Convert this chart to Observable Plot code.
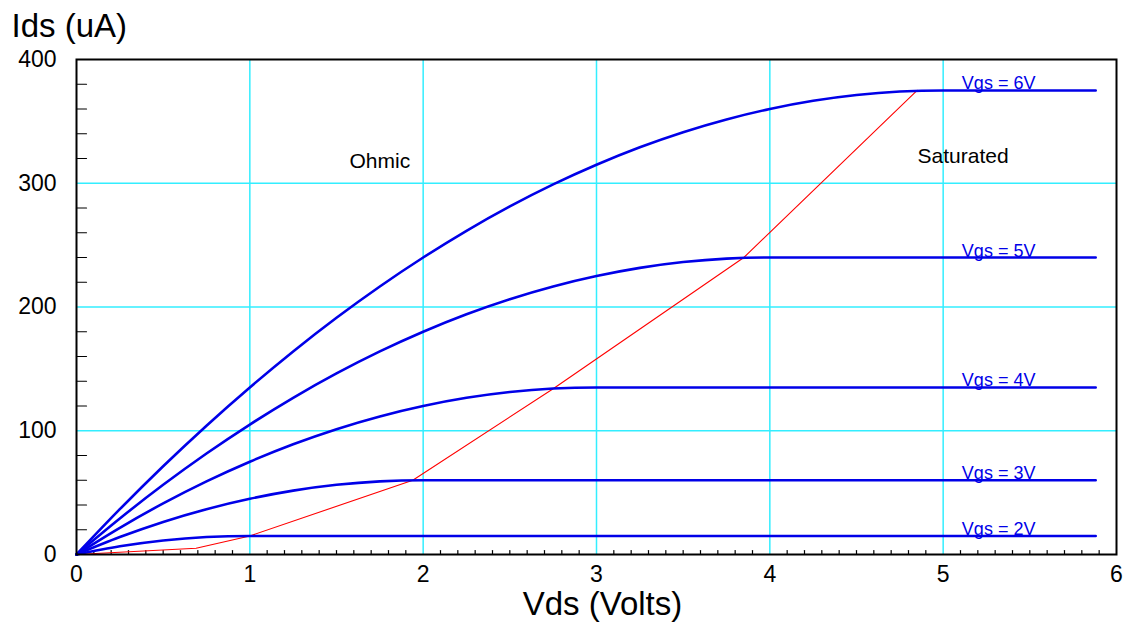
<!DOCTYPE html>
<html>
<head>
<meta charset="utf-8">
<script src="https://cdn.jsdelivr.net/npm/d3@7"></script>
<script src="https://cdn.jsdelivr.net/npm/@observablehq/plot@0.6"></script>
<style>
  html, body { margin: 0; padding: 0; background: #fff; }
  #chart svg { display: block; }
</style>
</head>
<body>
<div id="chart"></div>
<script>
// ---- Data ----
const seriesNames = ["Vgs = 2V", "Vgs = 3V", "Vgs = 4V", "Vgs = 5V", "Vgs = 6V"];

const vds2 = [0, 0.25, 0.5, 0.75, 1, 5.88];
const ids2 = [0, 6.6, 11.3, 14.1, 15, 15];

const vds3 = [0, 0.25, 0.5, 0.75, 1, 1.25, 1.5, 1.75, 2, 5.88];
const ids3 = [0, 14.1, 26.3, 36.6, 45, 51.6, 56.3, 59.1, 60, 60];

const vds4 = [0, 0.25, 0.5, 0.75, 1, 1.25, 1.5, 1.75, 2, 2.25, 2.5, 2.75, 3, 5.88];
const ids4 = [0, 21.6, 41.3, 59.1, 75, 89.1, 101.3, 111.6, 120, 126.6, 131.3, 134.1, 135, 135];

const vds5 = [0, 0.25, 0.5, 0.75, 1, 1.25, 1.5, 1.75, 2, 2.25, 2.5, 2.75, 3, 3.25, 3.5, 3.75, 4, 5.88];
const ids5 = [0, 29.1, 56.3, 81.6, 105, 126.6, 146.3, 164.1, 180, 194.1, 206.3, 216.6, 225, 231.6, 236.3, 239.1, 240, 240];

const vds6 = [0, 0.25, 0.5, 0.75, 1, 1.25, 1.5, 1.75, 2, 2.25, 2.5, 2.75, 3, 3.25, 3.5, 3.75, 4, 4.25, 4.5, 4.75, 5, 5.88];
const ids6 = [0, 36.6, 71.3, 104.1, 135, 164.1, 191.3, 216.6, 240, 261.6, 281.3, 299.1, 315, 329.1, 341.3, 351.6, 360, 366.6, 371.3, 374.1, 375, 375];

const satIds = [15, 60, 135, 240, 375];

// saturation boundary (red)
const boundaryVds = [0, 0.69, 1, 1.94, 2.75, 3.85, 4.85];
const boundaryIds = [0, 5, 15, 60, 134, 240, 375];

const xTicks = [0, 1, 2, 3, 4, 5, 6];
const yTicks = [0, 100, 200, 300, 400];
const xGrid = [1, 2, 3, 4, 5];
const yGrid = [100, 200, 300];

const regionNames = ["Ohmic", "Saturated"];
const regionVds = [1.75, 5.115];
const regionIds = [318, 322];

// ---- Build tables ----
const vdsAll = [vds2, vds3, vds4, vds5, vds6];
const idsAll = [ids2, ids3, ids4, ids5, ids6];
const curves = [];
seriesNames.forEach((name, s) => {
  vdsAll[s].forEach((v, i) => curves.push({series: name, vds: v, ids: idsAll[s][i]}));
});
const boundary = boundaryVds.map((v, i) => ({vds: v, ids: boundaryIds[i]}));
const seriesLabels = seriesNames.map((name, i) => ({name, ids: satIds[i]}));
const regions = regionNames.map((name, i) => ({name, vds: regionVds[i], ids: regionIds[i]}));

const minorX = d3.range(1, 60).filter(i => i % 10 !== 0).map(i => i / 10);
const minorY = d3.range(20, 400, 20).filter(v => v % 100 !== 0);

const tickShape = {draw(ctx, l) { ctx.moveTo(0, 0); ctx.lineTo(0, -l); }};

const blue = "#0000e8";
const cyan = "#33eeff";

const chart = Plot.plot({
  width: 1127,
  height: 622,
  marginLeft: 76,
  marginRight: 11,
  marginTop: 59,
  marginBottom: 68,
  style: {fontFamily: "'Liberation Sans', Arial, Helvetica, sans-serif", fontSize: "23px", color: "black", background: "white"},
  x: {domain: [0, 6]},
  y: {domain: [0, 400]},
  marks: [
    Plot.gridX(xGrid, {stroke: cyan, strokeOpacity: 1, strokeWidth: 1.5}),
    Plot.gridY(yGrid, {stroke: cyan, strokeOpacity: 1, strokeWidth: 1.5}),
    Plot.vector(minorY, {x: 0, y: d => d, length: 10, rotate: 90, anchor: "start", shape: tickShape, stroke: "black", strokeWidth: 1.2}),
    Plot.vector(minorX, {x: d => d, y: 0, length: 4, rotate: 0, anchor: "start", shape: tickShape, stroke: "black", strokeWidth: 1.2}),
    Plot.axisX(xTicks, {tickSize: 0, tickPadding: 11, fontSize: 23, label: null, tickFormat: d => String(d)}),
    Plot.axisY(yTicks, {tickSize: 0, tickPadding: 20, fontSize: 23, label: null, tickFormat: d => String(d)}),
    Plot.line(boundary, {x: "vds", y: "ids", stroke: "#ff0000", strokeWidth: 1.1}),
    Plot.line(curves, {x: "vds", y: "ids", z: "series", stroke: blue, strokeWidth: 2.6, curve: "monotone-x"}),
    Plot.text(seriesLabels, {x: 5.32, y: "ids", text: "name", fill: blue, fontSize: 18, lineAnchor: "bottom", dy: -1}),
    Plot.text(regions, {x: "vds", y: "ids", text: "name", fill: "black", fontSize: 21}),
    Plot.frame({stroke: "black", strokeWidth: 2}),
    Plot.text(["Ids (uA)"], {frameAnchor: "top-left", dx: -65, dy: -46, textAnchor: "start", lineAnchor: "top", fontSize: 33, fill: "black"}),
    Plot.text(["Vds (Volts)"], {frameAnchor: "bottom", dx: 6, dy: 60, lineAnchor: "bottom", fontSize: 33, fill: "black"})
  ]
});
document.getElementById("chart").appendChild(chart);
</script>
</body>
</html>
